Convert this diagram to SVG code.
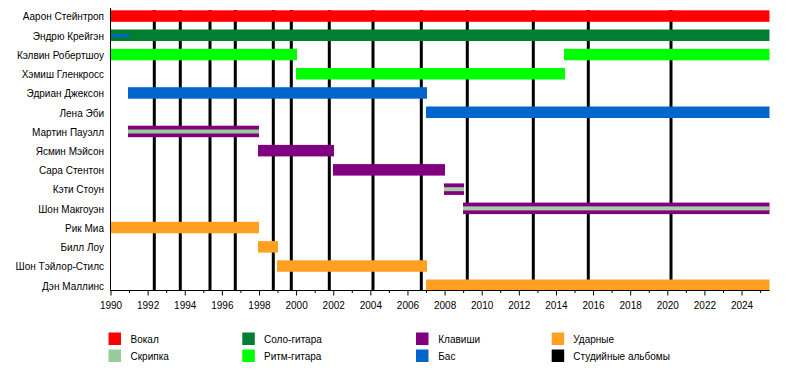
<svg xmlns="http://www.w3.org/2000/svg" width="800" height="370" viewBox="0 0 800 370">
<style>
text{font-family:"Liberation Sans",Arial,sans-serif;font-size:10px;fill:#000}
.lbl{text-anchor:end}
.yr{text-anchor:middle}
.voc{fill:#FF0000}.sol{fill:#007F33}.rit{fill:#00FF00}.bas{fill:#0066CC}
.key{fill:#800080}.vio{fill:#99CC99}.drm{fill:#FFA023}.alb{fill:#000}
.vs{fill:#A8CCA8}
</style>
<rect width="800" height="370" fill="#fff"/>
<g id="albums" stroke="#000" stroke-width="3">
<path d="M154.3 10V290.5M180.3 10V290.5M210 10V290.5M235.3 10V290.5M273.3 10V290.5M291.3 10V290.5M329.3 10V290.5M373 10V290.5M421.3 10V290.5M467.3 10V290.5M533.3 10V290.5M588.3 10V290.5M671 10V290.5"/>
</g>
<g id="rows">
<g id="r0"><text class="lbl" x="104" y="20.3">Аарон Стейнтроп</text><rect class="voc" x="111" y="10.3" width="658.5" height="11.5"/></g>
<g id="r1"><text class="lbl" x="104" y="39.5">Эндрю Крейгэн</text><rect class="sol" x="111" y="29.5" width="658.5" height="11.5"/><rect class="bas" x="111" y="34" width="18.3" height="3"/></g>
<g id="r2"><text class="lbl" x="104" y="58.8">Кэлвин Робертшоу</text><rect class="rit" x="111" y="48.8" width="186" height="11.5"/><rect class="rit" x="564" y="48.8" width="205.5" height="11.5"/></g>
<g id="r3"><text class="lbl" x="104" y="78">Хэмиш Гленкросс</text><rect class="rit" x="296" y="68" width="269" height="11.5"/></g>
<g id="r4"><text class="lbl" x="104" y="97.2">Эдриан Джексон</text><rect class="bas" x="128" y="87.2" width="299" height="11.5"/></g>
<g id="r5"><text class="lbl" x="104" y="116.5">Лена Эби</text><rect class="bas" x="426" y="106.5" width="343.5" height="11.5"/></g>
<g id="r6"><text class="lbl" x="104" y="135.7">Мартин Пауэлл</text><rect class="key" x="128" y="125.7" width="131" height="11.5"/><rect class="vio" x="128" y="129.5" width="131" height="4"/></g>
<g id="r7"><text class="lbl" x="104" y="154.9">Ясмин Мэйсон</text><rect class="key" x="258" y="144.9" width="76" height="11.5"/></g>
<g id="r8"><text class="lbl" x="104" y="174.1">Сара Стентон</text><rect class="key" x="333" y="164.1" width="112" height="11.5"/></g>
<g id="r9"><text class="lbl" x="104" y="193.4">Кэти Стоун</text><rect class="key" x="444" y="183.4" width="20" height="11.5"/><rect class="vs" x="444" y="187.2" width="20" height="4"/></g>
<g id="r10"><text class="lbl" x="104" y="212.6">Шон Макгоуэн</text><rect class="key" x="463" y="202.6" width="306.5" height="11.5"/><rect class="vs" x="463" y="206.4" width="306.5" height="4"/></g>
<g id="r11"><text class="lbl" x="104" y="231.8">Рик Миа</text><rect class="drm" x="111" y="221.8" width="148" height="11.5"/></g>
<g id="r12"><text class="lbl" x="104" y="251.1">Билл Лоу</text><rect class="drm" x="258" y="241.1" width="20" height="11.5"/></g>
<g id="r13"><text class="lbl" x="104" y="270.3">Шон Тэйлор-Стилс</text><rect class="drm" x="277" y="260.3" width="150" height="11.5"/></g>
<g id="r14"><text class="lbl" x="104" y="289.5">Дэн Маллинс</text><rect class="drm" x="426" y="279.5" width="343.5" height="11.2"/></g>
</g>
<g id="axis" stroke="#000" stroke-width="1" fill="none">
<path d="M110.5 8V291M110.5 290.5H769.5"/>
<path d="M111 290.5v5M148.12 290.5v5M185.24 290.5v5M222.36 290.5v5M259.48 290.5v5M296.6 290.5v5M333.72 290.5v5M370.84 290.5v5M407.96 290.5v5M445.08 290.5v5M482.2 290.5v5M519.32 290.5v5M556.44 290.5v5M593.56 290.5v5M630.68 290.5v5M667.8 290.5v5M704.92 290.5v5M742.04 290.5v5"/>
<path d="M129.56 290.5v2.5M166.68 290.5v2.5M203.8 290.5v2.5M240.92 290.5v2.5M278.04 290.5v2.5M315.16 290.5v2.5M352.28 290.5v2.5M389.4 290.5v2.5M426.52 290.5v2.5M463.64 290.5v2.5M500.76 290.5v2.5M537.88 290.5v2.5M575 290.5v2.5M612.12 290.5v2.5M649.24 290.5v2.5M686.36 290.5v2.5M723.48 290.5v2.5M760.6 290.5v2.5"/>
</g>
<g id="years">
<text class="yr" x="111" y="308.5">1990</text><text class="yr" x="148.12" y="308.5">1992</text><text class="yr" x="185.24" y="308.5">1994</text><text class="yr" x="222.36" y="308.5">1996</text><text class="yr" x="259.48" y="308.5">1998</text><text class="yr" x="296.6" y="308.5">2000</text><text class="yr" x="333.72" y="308.5">2002</text><text class="yr" x="370.84" y="308.5">2004</text><text class="yr" x="407.96" y="308.5">2006</text><text class="yr" x="445.08" y="308.5">2008</text><text class="yr" x="482.2" y="308.5">2010</text><text class="yr" x="519.32" y="308.5">2012</text><text class="yr" x="556.44" y="308.5">2014</text><text class="yr" x="593.56" y="308.5">2016</text><text class="yr" x="630.68" y="308.5">2018</text><text class="yr" x="667.8" y="308.5">2020</text><text class="yr" x="704.92" y="308.5">2022</text><text class="yr" x="742.04" y="308.5">2024</text>
</g>
<g id="legend">
<rect class="voc" x="108.5" y="332.5" width="12.5" height="12.5"/><text x="130.5" y="343">Вокал</text>
<rect class="vio" x="108.5" y="349.5" width="12.5" height="12.5"/><text x="130.5" y="360">Скрипка</text>
<rect class="sol" x="242.3" y="332.5" width="12.5" height="12.5"/><text x="264" y="343">Соло-гитара</text>
<rect class="rit" x="242.3" y="349.5" width="12.5" height="12.5"/><text x="264" y="360">Ритм-гитара</text>
<rect class="key" x="416" y="332.5" width="12.5" height="12.5"/><text x="438.3" y="343">Клавиши</text>
<rect class="bas" x="416" y="349.5" width="12.5" height="12.5"/><text x="438.3" y="360">Бас</text>
<rect class="drm" x="551.7" y="332.5" width="12.5" height="12.5"/><text x="573.3" y="343">Ударные</text>
<rect class="alb" x="551.7" y="349.5" width="12.5" height="12.5"/><text x="573.3" y="360">Студийные альбомы</text>
</g>
</svg>
